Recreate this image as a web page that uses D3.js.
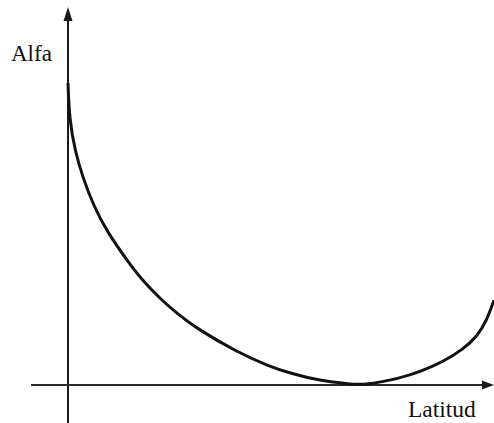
<!DOCTYPE html>
<html>
<head>
<meta charset="utf-8">
<script src="https://cdn.jsdelivr.net/npm/d3@7"></script>
<style>
  html, body { margin: 0; padding: 0; background: #fff; }
  svg { display: block; }
</style>
</head>
<body>
<svg id="chart" width="494" height="423"></svg>
<script>
// Alfa as a function of latitude (schematic curve)
const latitude = [0, 0.27, 1.5, 3.2, 5.35, 8.2, 13.1, 15.9, 19.4, 23.0, 27.2, 35.6, 42.3, 46.9, 53.2, 59.6, 62.8, 70.1, 74.4, 79.3, 83.5, 86.4, 88.5, 90];
const alfa     = [1.0, 0.883, 0.773, 0.684, 0.596, 0.508, 0.399, 0.344, 0.287, 0.237, 0.187, 0.110, 0.063, 0.039, 0.014, 0.003, 0, 0.022, 0.044, 0.077, 0.119, 0.160, 0.215, 0.281];
const axisLabels = { x: "Latitud", y: "Alfa" };

const W = 494, H = 423;
const svg = d3.select("#chart");

const x = d3.scaleLinear().domain([0, 90]).range([68, 494]);
const y = d3.scaleLinear().domain([0, 1]).range([385, 83]);

const ink = "#1a1a1a";
const serif = "Liberation Serif, Times New Roman, DejaVu Serif, serif";

// Axis lines with arrowheads
const x0 = x(0), y0 = y(0);

// vertical axis
svg.append("line")
  .attr("x1", x0).attr("x2", x0)
  .attr("y1", H).attr("y2", 19)
  .attr("stroke", ink).attr("stroke-width", 2);
svg.append("path")
  .attr("d", `M${x0},7 L${x0 - 4.5},21 L${x0 + 4.5},21 Z`)
  .attr("fill", ink);

// horizontal axis
svg.append("line")
  .attr("x1", 31).attr("x2", 488)
  .attr("y1", y0).attr("y2", y0)
  .attr("stroke", "#2a2a2a").attr("stroke-width", 2);
svg.append("path")
  .attr("d", `M${W},${y0} L${W - 12},${y0 - 4.5} L${W - 12},${y0 + 4.5} Z`)
  .attr("fill", ink);

// curve
const pts = latitude.map((v, i) => [v, alfa[i]]);
const line = d3.line()
  .x(d => x(d[0]))
  .y(d => y(d[1]))
  .curve(d3.curveBasis);

svg.append("path")
  .datum(pts)
  .attr("d", line)
  .attr("fill", "none")
  .attr("stroke", "#111")
  .attr("stroke-width", 3)
  .attr("stroke-linejoin", "round");

// axis titles
svg.append("text")
  .attr("x", 11).attr("y", 61)
  .attr("font-family", serif)
  .attr("font-size", 23)
  .attr("fill", "#111")
  .text(axisLabels.y);

svg.append("text")
  .attr("x", 408).attr("y", 417)
  .attr("font-family", serif)
  .attr("font-size", 23.5)
  .attr("fill", "#111")
  .text(axisLabels.x);
</script>
</body>
</html>
